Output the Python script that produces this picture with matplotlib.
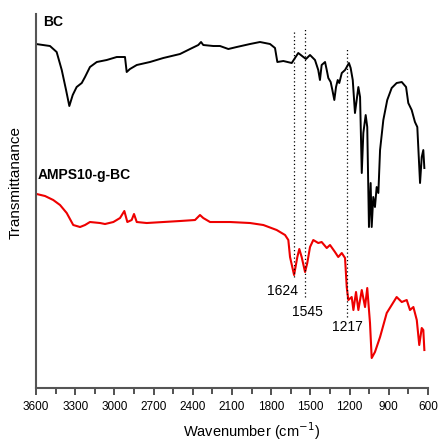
import numpy as np
import matplotlib
matplotlib.use("Agg")
import matplotlib.pyplot as plt
from matplotlib.ticker import MultipleLocator

plt.rcParams['font.family'] = ['Liberation Sans', 'DejaVu Sans']

# FTIR spectra (transmittance in arbitrary units)
bc_wn = [3600, 3493, 3442, 3403, 3370, 3345, 3319, 3289, 3250, 3225, 3187, 3135,
         3059, 2982, 2919, 2906, 2881, 2829, 2728, 2626, 2498, 2421, 2358, 2337,
         2320, 2243, 2192, 2128, 2064, 1962, 1886, 1809, 1771, 1753, 1707, 1643,
         1593, 1554, 1534, 1503, 1465, 1440, 1427, 1414, 1388, 1375, 1363, 1345,
         1332, 1317, 1304, 1291, 1279, 1260, 1235, 1222, 1205, 1192, 1176, 1159,
         1146, 1133, 1120, 1107, 1095, 1077, 1065, 1052, 1039, 1031, 1019, 1006,
         993, 980, 967, 942, 912, 878, 840, 801, 768, 751, 725, 700, 682, 661,
         648, 636, 628]
bc_t = [344, 342, 336, 318, 298, 282, 293, 301, 305, 311, 321, 326,
        328, 331, 331, 316, 319, 323, 326, 330, 334, 339, 343, 346,
        343, 342, 342, 339, 341, 344, 346, 344, 340, 326, 327, 325,
        335, 331, 329, 333, 328, 318, 308, 323, 326, 318, 310, 306,
        298, 288, 301, 308, 305, 315, 318, 321, 325, 320, 308, 275,
        288, 301, 291, 215, 255, 273, 261, 161, 205, 161, 191, 181,
        201, 195, 238, 268, 288, 300, 305, 306, 301, 285, 278, 266, 261, 205,
        231, 238, 220]

amps_wn = [3595, 3531, 3468, 3416, 3365, 3315, 3263, 3225, 3187, 3110, 3072, 3008,
           2957, 2924, 2901, 2868, 2850, 2829, 2753, 2626, 2498, 2383, 2345, 2320,
           2268, 2115, 1962, 1860, 1758, 1694, 1669, 1656, 1625, 1600, 1585, 1567,
           1541, 1524, 1503, 1478, 1440, 1414, 1375, 1350, 1312, 1287, 1260, 1235,
           1222, 1210, 1184, 1171, 1151, 1133, 1107, 1082, 1065, 1044, 1031, 1006,
           967, 916, 840, 801, 763, 738, 712, 686, 667, 648, 636, 628]
amps_t = [194, 192, 188, 183, 175, 163, 161, 163, 166, 165, 164, 166,
          170, 177, 166, 168, 174, 166, 165, 166, 167, 168, 173, 170,
          166, 166, 165, 163, 158, 153, 148, 131, 113, 131, 139, 131,
          116, 125, 141, 148, 145, 146, 140, 143, 136, 131, 135, 130,
          101, 88, 91, 78, 96, 78, 98, 81, 100, 65, 30, 36,
          51, 75, 91, 86, 88, 78, 81, 68, 43, 60, 58, 38]

# marked bands: wavenumber, line top, line bottom, label position
band_wn = [1624, 1545, 1217]
band_top = [358, 360, 341]
band_bottom = [111, 91, 71]
band_label = ['1624', '1545', '1217']
label_wn = [1710, 1526, 1220]
label_t = [97, 76, 61]

fig = plt.figure(figsize=(4.38, 4.46), dpi=100)
ax = fig.add_axes([0.0822, 0.130, 0.895, 0.8386])

ax.plot(bc_wn, bc_t, color='black', lw=1.4)
ax.plot(amps_wn, amps_t, color='#ee0000', lw=1.5)

for w, top, bot, lab, lw_, lt in zip(band_wn, band_top, band_bottom, band_label,
                                     label_wn, label_t):
    ax.plot([w, w], [bot, top], color='black', lw=0.9, ls=(0, (1, 2)))
    ax.text(lw_, lt, lab, fontsize=10, ha='center', va='center')

ax.text(3545, 366, 'BC', fontsize=10, fontweight='bold', va='center')
ax.text(3590, 213, 'AMPS10-g-BC', fontsize=10, fontweight='bold', va='center')

ax.set_xlim(3600, 600)
ax.set_ylim(0, 374)
ax.xaxis.set_major_locator(MultipleLocator(300))
ax.xaxis.set_minor_locator(MultipleLocator(150))
ax.set_yticks([])

for s in ['top', 'right']:
    ax.spines[s].set_visible(False)
for s in ['left', 'bottom']:
    ax.spines[s].set_color('#555555')
    ax.spines[s].set_linewidth(1.5)

ax.tick_params(axis='x', which='major', direction='out', length=5, width=1.2,
               color='#333333', labelsize=8.5, pad=4)
ax.tick_params(axis='x', which='minor', direction='out', length=4, width=1.2,
               color='#333333')

ax.set_xlabel('Wavenumber (cm$^{-1}$)', fontsize=10.5)
ax.xaxis.set_label_coords(0.55, -0.085)
ax.set_ylabel('Transmittanance', fontsize=11)
ax.yaxis.set_label_coords(-0.035, 0.55)

fig.savefig('out.png', dpi=100)
